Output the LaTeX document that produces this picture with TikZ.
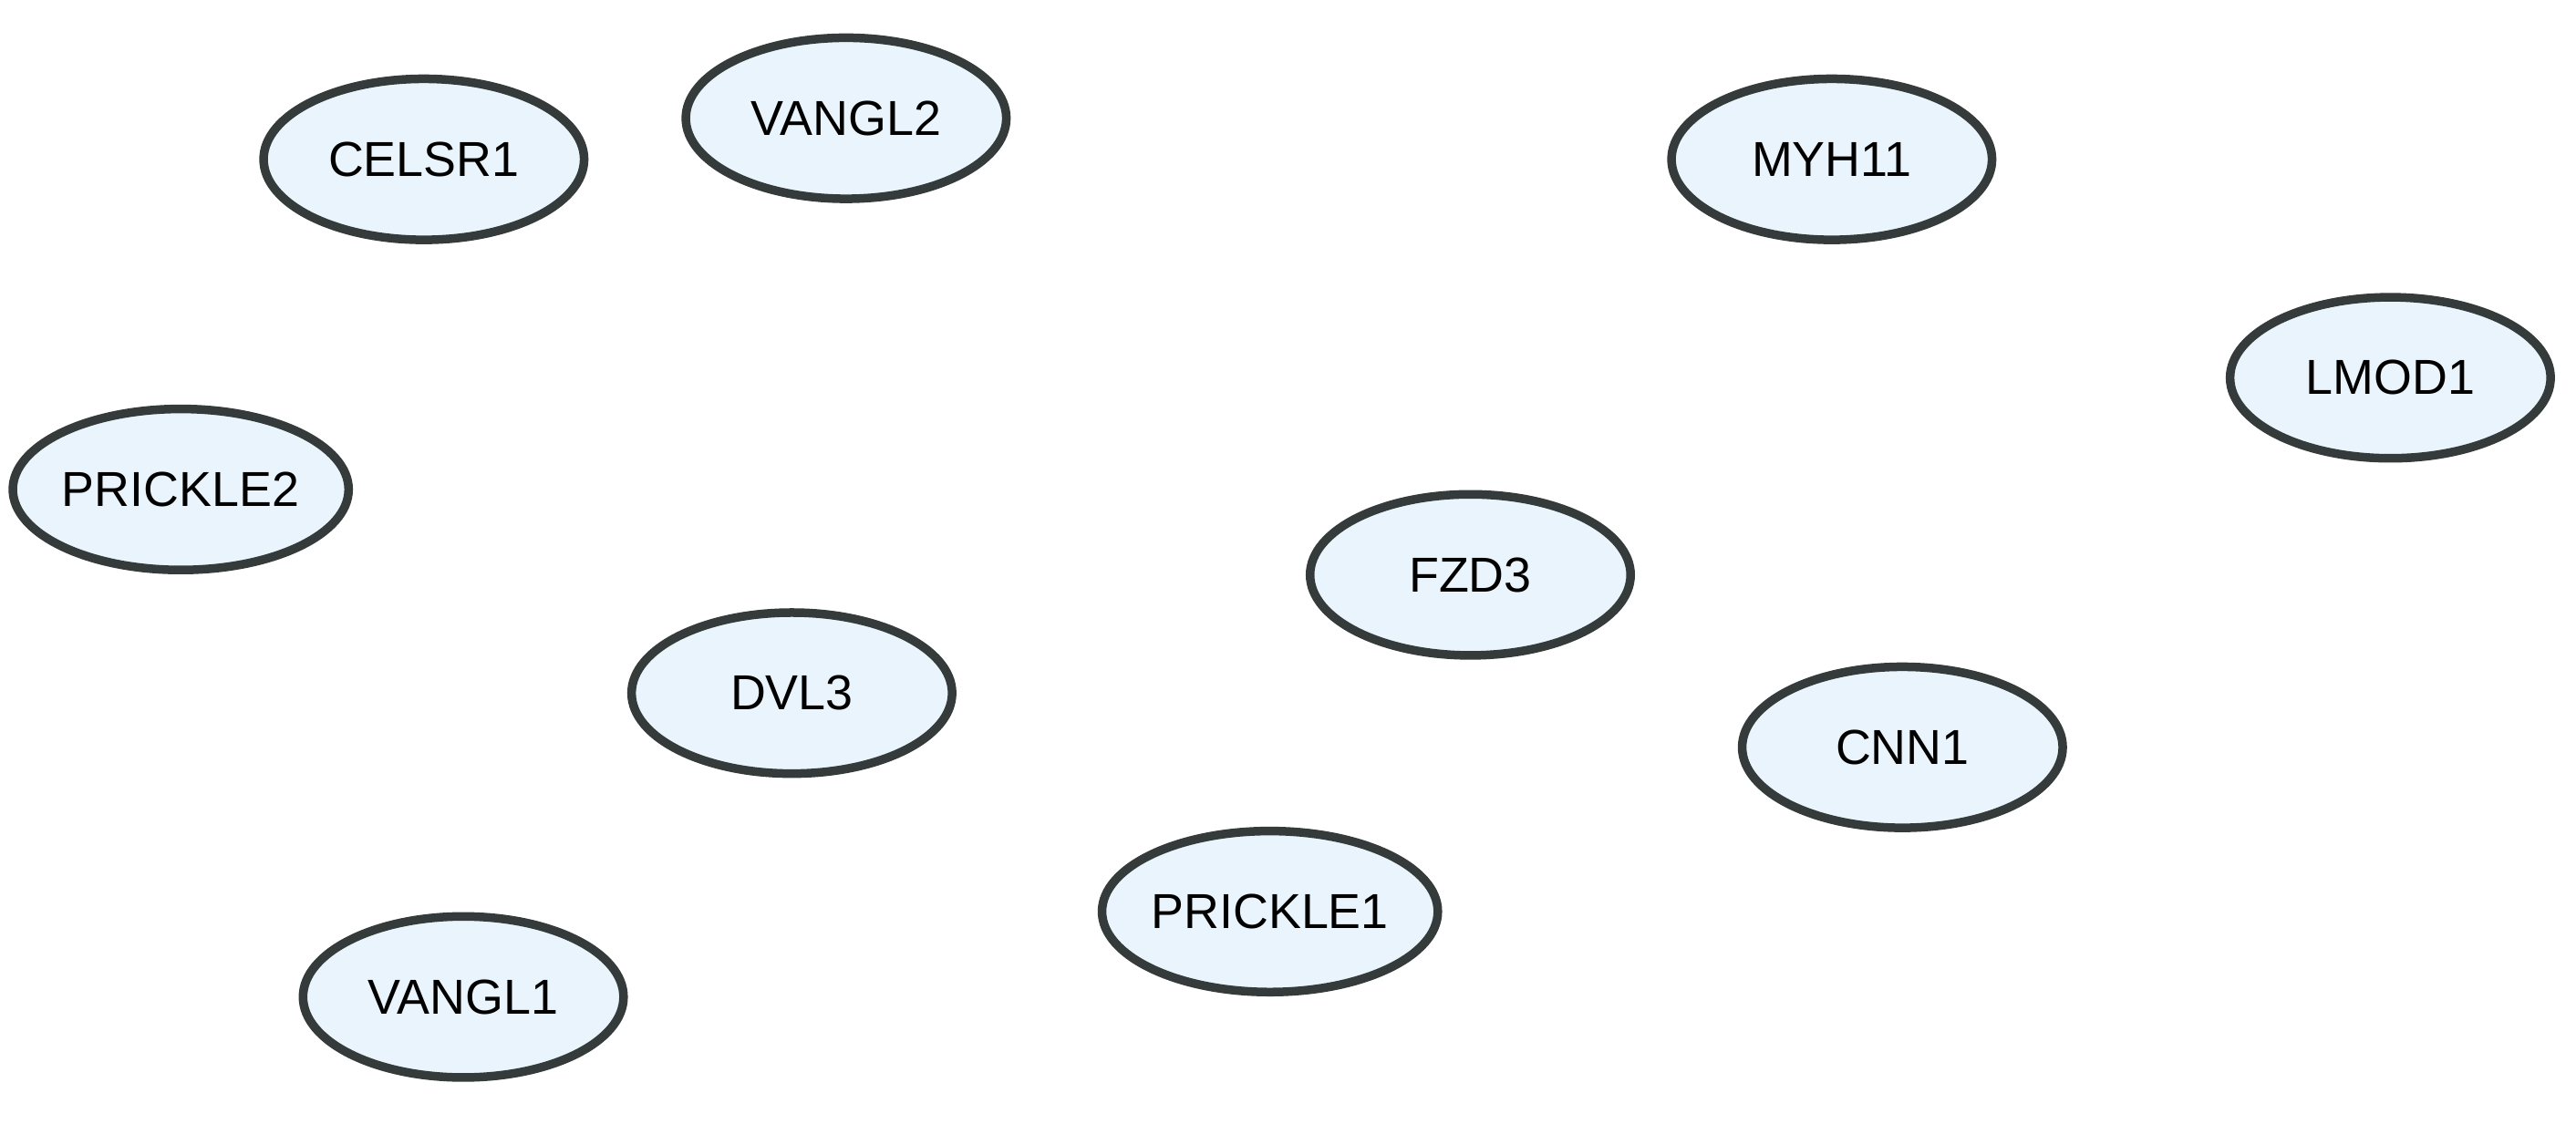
\documentclass[tikz,border=0pt]{standalone}
\usepackage{fontspec}
\setmainfont{Liberation Sans}
\usetikzlibrary{shapes.geometric}
\definecolor{genefill}{HTML}{EAF4FC}
\definecolor{genedraw}{HTML}{353B3B}
\definecolor{linkgray}{HTML}{BDBDBD}
\begin{document}
\begin{tikzpicture}[x=0.01cm,y=-0.01cm,
  gene/.style={ellipse, draw=genedraw, line width=1.5pt, fill=genefill,
    minimum width=1.95cm, minimum height=0.98cm, inner sep=0pt, font=\fontsize{8.5}{10}\selectfont},
  link/.style={draw=linkgray, line width=0.6pt}]
\useasboundingbox (0,0) rectangle (1568,684);

% Nodes of the first cluster
\node [gene] (CELSR1) at (258,97) {CELSR1};
\node [gene] (VANGL2) at (515,72) {VANGL2};
\node [gene] (PRICKLE2) at (110,298) {PRICKLE2};
\node [gene] (FZD3) at (895,350) {FZD3};
\node [gene] (DVL3) at (482,422) {DVL3};
\node [gene] (PRICKLE1) at (773,555) {PRICKLE1};
\node [gene] (VANGL1) at (282,607) {VANGL1};

% Nodes of the second cluster
\node [gene] (MYH11) at (1115,97) {MYH11};
\node [gene] (LMOD1) at (1455,230) {LMOD1};
\node [gene] (CNN1) at (1158,455) {CNN1};

% Links, drawn behind the nodes
\begin{scope}[on background layer/.style={}]
\end{scope}
\begin{pgfinterruptboundingbox}\end{pgfinterruptboundingbox}
\end{tikzpicture}%
\end{document}
